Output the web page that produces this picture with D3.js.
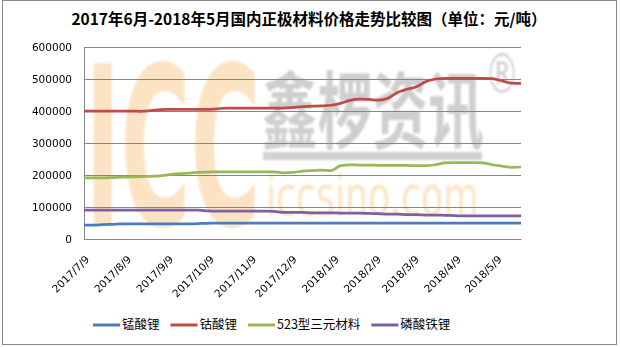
<!DOCTYPE html>
<html>
<head>
<meta charset="utf-8">
<script src="https://cdn.jsdelivr.net/npm/d3@7"></script>
<style>
body { margin: 0; background: #fff; }
</style>
</head>
<body>
<div id="chart"></div>
<script>
// weekly price readings (元/吨)
const dates = [
    '2017/7/5', '2017/7/12', '2017/7/19', '2017/7/26', '2017/8/2', '2017/8/9', '2017/8/16', '2017/8/23',
    '2017/8/30', '2017/9/6', '2017/9/13', '2017/9/20', '2017/9/27', '2017/10/4', '2017/10/11', '2017/10/18',
    '2017/10/25', '2017/11/1', '2017/11/8', '2017/11/15', '2017/11/22', '2017/11/29', '2017/12/6', '2017/12/13',
    '2017/12/20', '2017/12/27', '2018/1/3', '2018/1/10', '2018/1/17', '2018/1/24', '2018/1/31', '2018/2/7',
    '2018/2/14', '2018/2/21', '2018/2/28', '2018/3/7', '2018/3/14', '2018/3/21', '2018/3/28', '2018/4/4',
    '2018/4/11', '2018/4/18', '2018/4/25', '2018/5/2', '2018/5/9', '2018/5/16', '2018/5/23'
];

const seriesNames = ['锰酸锂', '钴酸锂', '523型三元材料', '磷酸铁锂'];

const lmo = [
    43000, 43000, 45000, 46000, 47000, 47000, 47000, 47000, 47000, 47000, 47000, 47000, 48000, 49000,
    50000, 50000, 50000, 50000, 50000, 50000, 50000, 50000, 50000, 50000, 50000, 50000, 50000, 50000,
    50000, 50000, 50000, 50000, 50000, 50000, 50000, 50000, 50000, 50000, 50000, 50000, 50000, 50000,
    50000, 50000, 50000, 50000, 50000
];
const lco = [
    400000, 400000, 400000, 400000, 400000, 400000, 399000, 401000, 404000, 405000, 405000, 405000,
    405000, 405000, 407000, 409000, 409000, 409000, 409000, 409000, 409000, 409000, 411000, 414000,
    415000, 416000, 418000, 424000, 433000, 437000, 436000, 434000, 440000, 458000, 468000, 476000,
    492000, 500000, 502000, 502000, 502000, 502000, 502000, 501000, 494000, 487000, 486000
];
const ncm523 = [
    191000, 191000, 191000, 192000, 193000, 194000, 195000, 196000, 197000, 201000, 204000, 206000,
    208000, 209000, 210000, 210000, 210000, 210000, 210000, 210000, 210000, 207000, 208000, 212000,
    214000, 215000, 214000, 229000, 232000, 231000, 231000, 230000, 230000, 230000, 230000, 229000,
    229000, 232000, 238000, 239000, 239000, 239000, 238000, 232000, 228000, 224000, 225000
];
const lfp = [
    90000, 90000, 90000, 90000, 90000, 90000, 90000, 90000, 90000, 90000, 90000, 90000, 90000, 88000,
    87000, 87000, 87000, 87000, 87000, 87000, 86000, 83000, 83000, 83000, 82000, 82000, 82000, 81000,
    81000, 81000, 80000, 79000, 78000, 78000, 76000, 76000, 75000, 75000, 74000, 73000, 72000, 72000,
    72000, 72000, 72000, 72000, 72000
];

const xTickLabels = ['2017/7/9', '2017/8/9', '2017/9/9', '2017/10/9', '2017/11/9', '2017/12/9',
    '2018/1/9', '2018/2/9', '2018/3/9', '2018/4/9', '2018/5/9'];
const yTicks = [0, 100000, 200000, 300000, 400000, 500000, 600000];

const colors = ['#4a7ebb', '#be4b48', '#98b954', '#7d60a0'];

const outerWidth = 620;
const outerHeight = 347;
const margin = { top: 47, right: 99, bottom: 108, left: 84 };
const width = outerWidth - margin.left - margin.right;
const height = outerHeight - margin.top - margin.bottom;

const parse = d3.timeParse('%Y/%m/%d');
const dateValues = dates.map(parse);

const svg = d3.select('#chart').append('svg')
    .attr('width', outerWidth)
    .attr('height', outerHeight);

// chart border
svg.append('rect')
    .attr('x', 2.5).attr('y', 0.5)
    .attr('width', 614).attr('height', 344)
    .attr('fill', '#fff')
    .attr('stroke', '#888');

// title
svg.append('text')
    .attr('x', 309).attr('y', 25)
    .attr('text-anchor', 'middle')
    .style('font-family', '"Noto Sans CJK SC", sans-serif')
    .style('font-weight', 'bold')
    .style('font-size', '15.5px')
    .attr('fill', '#000')
    .text('2017年6月-2018年5月国内正极材料价格走势比较图（单位：元/吨）');

// watermark
const defs = svg.append('defs');
defs.append('filter').attr('id', 'soft')
    .append('feGaussianBlur').attr('stdDeviation', 1);

const mark = svg.append('g').attr('filter', 'url(#soft)');
mark.append('text')
    .attr('transform', 'translate(85,225) scale(0.43,1)')
    .style('font-family', '"DejaVu Sans"')
    .style('font-weight', 'bold')
    .style('font-size', '222px')
    .attr('fill', '#fbe3c4')
    .text('ICC');
mark.append('text')
    .attr('transform', 'translate(262,105) scale(0.66,1)')
    .attr('dominant-baseline', 'central')
    .style('font-family', '"Noto Sans CJK SC"')
    .style('font-weight', 'bold')
    .style('font-size', '84px')
    .attr('fill', '#cfcfcf')
    .text('鑫椤资讯');
mark.append('rect')
    .attr('x', 263).attr('y', 152)
    .attr('width', 219).attr('height', 8)
    .attr('fill', '#d2d2d2');
mark.append('text')
    .attr('transform', 'translate(266,215) scale(0.66,1)')
    .style('font-family', '"DejaVu Sans"')
    .style('font-size', '55px')
    .attr('fill', '#fce4c4')
    .text('iccsino.com');
mark.append('text')
    .attr('transform', 'translate(502,93) scale(0.62,1)')
    .attr('text-anchor', 'middle')
    .style('font-family', '"DejaVu Sans"')
    .style('font-size', '56px')
    .attr('fill', '#d0d0d0')
    .text('®');

const g = svg.append('g')
    .attr('transform', `translate(${margin.left}, ${margin.top})`);

// scales
const x = d3.scaleTime()
    .domain([dateValues[0], dateValues[dateValues.length - 1]])
    .range([0, width]);
const y = d3.scaleLinear().domain([0, 600000]).range([height, 0]);

// y axis + gridlines
const gy = g.append('g')
    .call(d3.axisLeft(y)
        .tickValues(yTicks)
        .tickSize(-width)
        .tickSizeOuter(0)
        .tickPadding(12)
        .tickFormat(d3.format('d')));
gy.select('.domain').attr('stroke', '#868686');
gy.selectAll('.tick line').attr('stroke', '#868686');
gy.selectAll('.tick text')
    .style('font-family', '"DejaVu Sans"')
    .style('font-size', '10.5px')
    .attr('fill', '#000');

// x axis
const gx = g.append('g')
    .attr('transform', `translate(0, ${height})`)
    .call(d3.axisBottom(x)
        .tickValues(xTickLabels.map(parse))
        .tickSize(0)
        .tickSizeOuter(0)
        .tickFormat((d, i) => xTickLabels[i]));
gx.select('.domain').attr('stroke', '#868686');
gx.selectAll('.tick text')
    .attr('x', 0).attr('y', 0).attr('dy', 0)
    .attr('text-anchor', 'end')
    .attr('transform', 'translate(0, 21) rotate(-45)')
    .style('font-family', '"DejaVu Sans"')
    .style('font-size', '10.5px')
    .attr('fill', '#000');

// lines
const allSeries = [lmo, lco, ncm523, lfp];
const line = d3.line()
    .x((d, i) => x(dateValues[i]))
    .y(d => y(d))
    .curve(d3.curveMonotoneX);

g.selectAll('.series')
    .data(allSeries)
    .enter().append('path')
    .attr('class', 'series')
    .attr('d', d => line(d))
    .attr('fill', 'none')
    .attr('stroke', (d, i) => colors[i])
    .attr('stroke-width', 2.75)
    .attr('stroke-linejoin', 'round');

// legend
const legend = svg.append('g').attr('transform', 'translate(93, 325)');
let lx = 0;
seriesNames.forEach((name, i) => {
    const item = legend.append('g').attr('transform', `translate(${lx}, 0)`);
    item.append('line')
        .attr('x1', 0).attr('x2', 27)
        .attr('stroke', colors[i])
        .attr('stroke-width', 3);
    const t = item.append('text')
        .attr('x', 29).attr('y', 0)
        .attr('dy', '0.35em')
        .style('font-family', '"Noto Sans CJK SC"')
        .style('font-size', '12.5px')
        .attr('fill', '#000')
        .text(name);
    lx += 29 + t.node().getComputedTextLength() + 11;
});
</script>
</body>
</html>
